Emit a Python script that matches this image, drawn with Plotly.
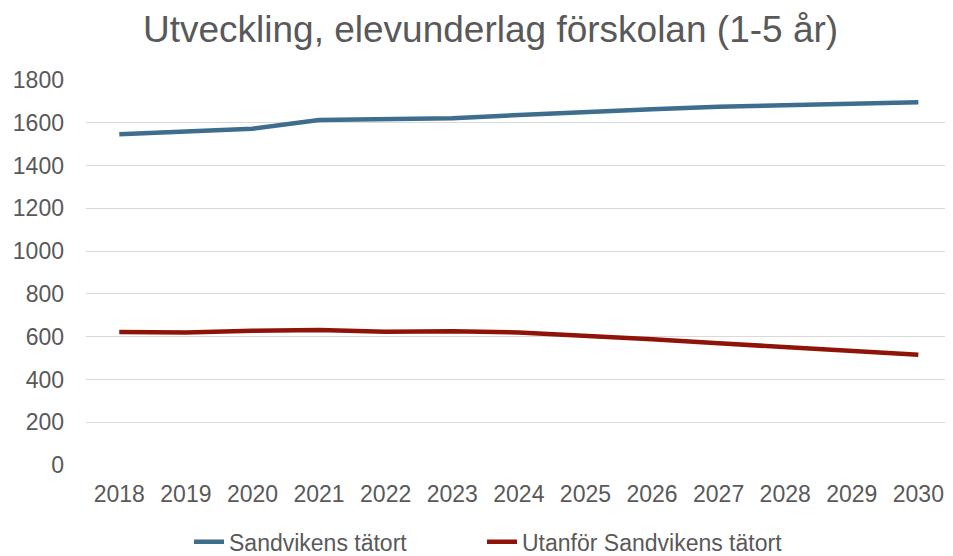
import plotly.graph_objects as go

years = ["2018", "2019", "2020", "2021", "2022", "2023", "2024", "2025", "2026", "2027", "2028", "2029", "2030"]
sandviken = [1546, 1560, 1572, 1613, 1616, 1621, 1636, 1647, 1663, 1675, 1683, 1689, 1696]
utanfor = [622, 620, 628, 631, 623, 625, 620, 605, 588, 569, 550, 534, 516]
y_ticks = [0, 200, 400, 600, 800, 1000, 1200, 1400, 1600, 1800]

fig = go.Figure()
fig.add_trace(go.Scatter(x=years, y=sandviken, mode="lines", name="Sandvikens tätort",
                         line=dict(color="#3E6D8E", width=4.5), legend="legend", showlegend=True))
fig.add_trace(go.Scatter(x=years, y=utanfor, mode="lines", name="Utanför Sandvikens tätort",
                         line=dict(color="#8E1409", width=4.5), legend="legend2", showlegend=True))

leg_common = dict(orientation="h", xref="container", xanchor="left",
                  y=0.026, yref="container", yanchor="middle",
                  font=dict(size=23), bgcolor="rgba(0,0,0,0)")

fig.update_layout(
    width=937, height=548,
    showlegend=True,
    margin=dict(l=78, r=0, t=72, b=91),
    paper_bgcolor="white", plot_bgcolor="white",
    font=dict(family="Liberation Sans, Arial, sans-serif", color="#595959", size=23),
    title=dict(text="Utveckling, elevunderlag förskolan (1-5 år)", x=0.515, xanchor="center",
               y=0.962, yanchor="middle", font=dict(size=37, color="#595959")),
    xaxis=dict(type="category", range=[-0.5, 12.4], showgrid=False, showline=False,
               zeroline=False, ticks="", tickfont=dict(size=23), ticklabelstandoff=13),
    yaxis=dict(range=[0, 1800], tickvals=y_ticks, showgrid=True, gridcolor="#D9D9D9",
               gridwidth=1.3, zeroline=False, showline=False, ticks="",
               tickfont=dict(size=23), ticklabelstandoff=21),
    legend=dict(x=181 / 937, **leg_common),
    legend2=dict(x=474 / 937, **leg_common),
)

fig.write_html("out.html")
